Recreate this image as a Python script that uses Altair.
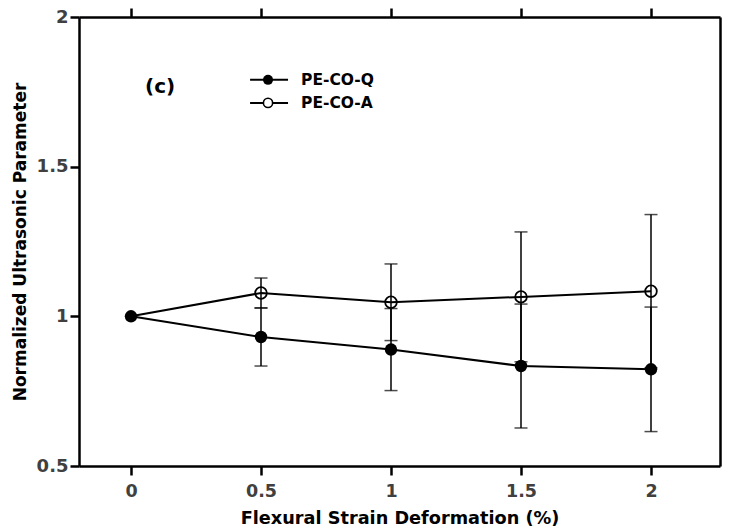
import altair as alt
import pandas as pd

# ---- data ----
strain = [0, 0.5, 1, 1.5, 2]
series = ["PE-CO-Q", "PE-CO-A"]
q_mean = [1.0, 0.931, 0.889, 0.834, 0.823]
q_err = [0.0, 0.097, 0.137, 0.207, 0.208]
a_mean = [1.0, 1.078, 1.047, 1.065, 1.084]
a_err = [0.0, 0.050, 0.128, 0.217, 0.256]
x_ticks = [0, 0.5, 1, 1.5, 2]
y_ticks = [0.5, 1, 1.5, 2]
panel_label = ["(c)"]

FONT = "DejaVu Sans"

rows = []
for s, means, errs in [(series[0], q_mean, q_err), (series[1], a_mean, a_err)]:
    for x, m, e in zip(strain, means, errs):
        rows.append({"series": s, "x": x, "y": m, "lo": m - e, "hi": m + e, "err": e})
df = pd.DataFrame(rows)
err_df = df[df["err"] > 0]
caps = pd.concat([
    err_df[["series", "x", "lo"]].rename(columns={"lo": "c"}),
    err_df[["series", "x", "hi"]].rename(columns={"hi": "c"}),
])

W, H = 641, 449
xscale = alt.Scale(domain=[-0.2, -0.2 + W / 260.0], nice=False, zero=False)
yscale = alt.Scale(domain=[0.5, 2], nice=False, zero=False)

DOM = dict(domain=True, domainColor="black", domainWidth=2.5)

main_x_axis = alt.Axis(values=x_ticks, format="~g", title="Flexural Strain Deformation (%)",
                       grid=False, tickSize=9, tickWidth=2.5, tickColor="black",
                       labelFont=FONT, labelFontSize=17.5, labelFontWeight="bold", labelColor="#404040",
                       labelPadding=7, titleFont=FONT, titleFontSize=17.7, titleFontWeight="bold",
                       titleColor="black", titlePadding=10, **DOM)
main_y_axis = alt.Axis(values=y_ticks, format="~g", title="Normalized Ultrasonic Parameter",
                       grid=False, tickSize=9, tickWidth=2.5, tickColor="black",
                       labelFont=FONT, labelFontSize=18, labelFontWeight="bold", labelColor="#404040",
                       labelPadding=2, titleFont=FONT, titleFontSize=17, titleFontWeight="bold",
                       titleColor="black", titlePadding=7, **DOM)
top_axis = alt.Axis(values=x_ticks, orient="top", labels=False, title=None, grid=False,
                    tickSize=9, tickWidth=2.5, tickColor="black", **DOM)
right_axis = alt.Axis(orient="right", labels=False, ticks=False, title=None, grid=False, **DOM)

base = alt.Chart(df)

axes_layer = base.mark_point(opacity=0).encode(
    x=alt.X("x:Q", scale=xscale, axis=main_x_axis),
    y=alt.Y("y:Q", scale=yscale, axis=main_y_axis),
)
frame_layer = base.mark_point(opacity=0).encode(
    x=alt.X("x:Q", scale=xscale, axis=top_axis),
    y=alt.Y("y:Q", scale=yscale, axis=right_axis),
)

err_rules = alt.Chart(err_df).mark_rule(color="black", strokeWidth=1.5).encode(
    x=alt.X("x:Q", scale=xscale, axis=None),
    y=alt.Y("lo:Q", scale=yscale, axis=None),
    y2="hi:Q",
)
err_caps = alt.Chart(caps).mark_tick(orient="horizontal", size=13, thickness=1.5, color="black").encode(
    x=alt.X("x:Q", scale=xscale, axis=None),
    y=alt.Y("c:Q", scale=yscale, axis=None),
)
lines = base.mark_line(color="black", strokeWidth=2).encode(
    x=alt.X("x:Q", scale=xscale, axis=None),
    y=alt.Y("y:Q", scale=yscale, axis=None),
    detail="series:N",
)
pts_q = base.transform_filter(alt.datum.series == series[0]).mark_point(
    shape="circle", filled=True, size=155, color="black", opacity=1).encode(
    x=alt.X("x:Q", scale=xscale, axis=None),
    y=alt.Y("y:Q", scale=yscale, axis=None),
)
pts_a = base.transform_filter((alt.datum.series == series[1]) & (alt.datum.x > 0)).mark_point(
    shape="circle", filled=False, size=135, color="black", strokeWidth=1.8, opacity=1).encode(
    x=alt.X("x:Q", scale=xscale, axis=None),
    y=alt.Y("y:Q", scale=yscale, axis=None),
)

# legend (placed in data coordinates)
leg = pd.DataFrame({
    "series": series,
    "x0": [0.458, 0.458], "x1": [0.604, 0.604], "xm": [0.527, 0.527], "xt": [0.654, 0.654],
    "ly": [1.790, 1.713],
})
leg_lines = alt.Chart(leg).mark_rule(color="black", strokeWidth=2).encode(
    x=alt.X("x0:Q", scale=xscale, axis=None), x2="x1:Q",
    y=alt.Y("ly:Q", scale=yscale, axis=None),
)
leg_q = alt.Chart(leg).transform_filter(alt.datum.series == series[0]).mark_point(
    shape="circle", filled=True, size=100, color="black", opacity=1).encode(
    x=alt.X("xm:Q", scale=xscale, axis=None), y=alt.Y("ly:Q", scale=yscale, axis=None))
leg_a = alt.Chart(leg).transform_filter(alt.datum.series == series[1]).mark_point(
    shape="circle", filled=True, size=85, color="white", opacity=1).encode(
    x=alt.X("xm:Q", scale=xscale, axis=None), y=alt.Y("ly:Q", scale=yscale, axis=None))
leg_a2 = alt.Chart(leg).transform_filter(alt.datum.series == series[1]).mark_point(
    shape="circle", filled=False, size=85, color="black", strokeWidth=1.6, opacity=1).encode(
    x=alt.X("xm:Q", scale=xscale, axis=None), y=alt.Y("ly:Q", scale=yscale, axis=None))
leg_text = alt.Chart(leg).mark_text(align="left", baseline="middle", font=FONT, fontSize=15.5,
                                    fontWeight="bold", color="black").encode(
    x=alt.X("xt:Q", scale=xscale, axis=None), y=alt.Y("ly:Q", scale=yscale, axis=None),
    text="series:N")

lab = pd.DataFrame({"t": panel_label, "x": [0.112], "y": [1.765]})
lab_text = alt.Chart(lab).mark_text(align="center", baseline="middle", font=FONT, fontSize=20,
                                    fontWeight="bold", color="black").encode(
    x=alt.X("x:Q", scale=xscale, axis=None), y=alt.Y("y:Q", scale=yscale, axis=None), text="t:N")

chart = alt.layer(
    axes_layer, frame_layer, err_rules, err_caps, lines, pts_q, pts_a,
    leg_lines, leg_q, leg_a, leg_a2, leg_text, lab_text,
).resolve_axis(x="independent", y="independent").properties(
    width=W, height=H,
    autosize=alt.AutoSizeParams(type="none"),
    padding={"left": 71, "top": 9, "right": 2, "bottom": 64},
).configure_view(stroke=None).configure(background="white")

chart.save("out.html", embed_options={"renderer": "svg", "actions": False})
